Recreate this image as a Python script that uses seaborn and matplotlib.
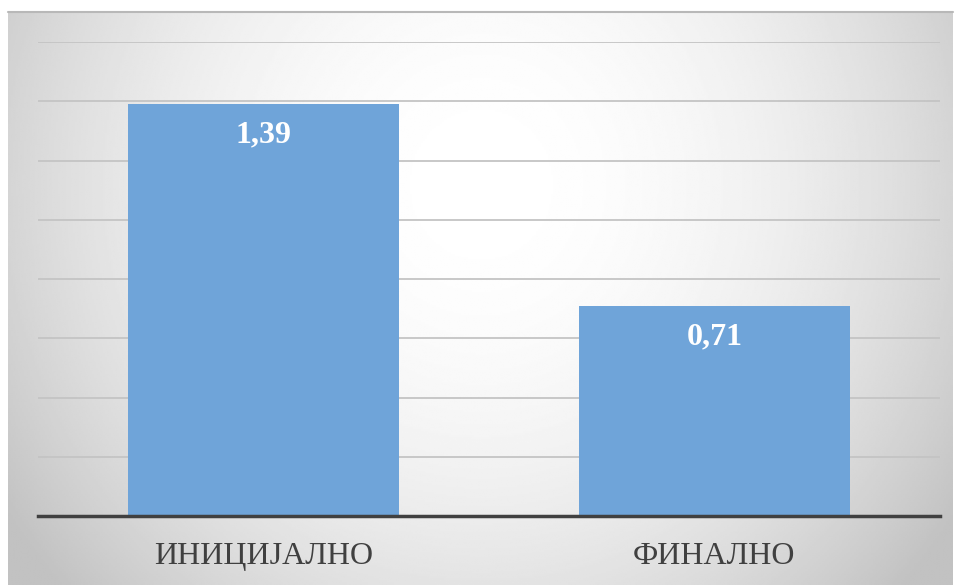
import numpy as np
import pandas as pd
import matplotlib
matplotlib.use("Agg")
import matplotlib.pyplot as plt
import seaborn as sns

categories = ["ИНИЦИЈАЛНО", "ФИНАЛНО"]
values = [1.39, 0.71]
value_labels = ["1,39", "0,71"]

sns.set_theme(style="white")
plt.rcParams['font.family'] = ['Liberation Serif', 'DejaVu Serif']

W, H = 960, 585
fig = plt.figure(figsize=(W / 100, H / 100), dpi=100)
fig.patch.set_facecolor("white")

# background gradient panel
bx0, by0, bx1, by1 = 8, 12, 953, 585
bg = fig.add_axes([bx0 / W, 1 - by1 / H, (bx1 - bx0) / W, (by1 - by0) / H])
ny, nx = 300, 500
yy, xx = np.mgrid[0:ny, 0:nx]
cx, cy = nx * 0.5, ny * 0.3
r2 = ((xx - cx) / (nx * 0.55)) ** 2 + ((yy - cy) / (ny * 0.95)) ** 2
val = np.clip(1.0 - 0.2 * r2, 0.76, 1.0)
bg.imshow(val, cmap="gray", vmin=0, vmax=1, aspect="auto", interpolation="bilinear")
bg.set_axis_off()
# top border line
fig.add_artist(plt.Line2D([bx0 / W, bx1 / W], [1 - by0 / H, 1 - by0 / H],
                          color="#b8b8b8", lw=1.5, transform=fig.transFigure))

# main plot
px0, px1, py_top, py_base = 38, 940, 42, 516
ax = fig.add_axes([px0 / W, 1 - py_base / H, (px1 - px0) / W, (py_base - py_top) / H])
ax.patch.set_alpha(0)
df = pd.DataFrame({"cat": categories, "val": values})
sns.barplot(data=df, x="cat", y="val", color="#6fa4d9", saturation=1, width=0.603,
            ax=ax, zorder=3, edgecolor="none")
ax.set_ylim(0, 1.6)
ax.set_xlim(-0.5, 1.5)
ax.set_yticks(np.arange(0.2, 1.61, 0.2))
ax.yaxis.grid(True, color="#c4c4c4", lw=1.3, zorder=0)
ax.set_axisbelow(True)
ax.tick_params(axis="y", left=False, labelleft=False)
ax.tick_params(axis="x", bottom=False, labelsize=23, labelcolor="#404040", pad=13)
for s in ["top", "right", "left"]:
    ax.spines[s].set_visible(False)
ax.spines["bottom"].set_color("#404040")
ax.spines["bottom"].set_linewidth(2.5)
ax.spines["bottom"].set_zorder(5)
ax.set_xlabel("")
ax.set_ylabel("")

for i, (v, lab) in enumerate(zip(values, value_labels)):
    ax.annotate(lab, (i, v), xytext=(0, -31), textcoords="offset pixels",
                ha="center", va="center", color="white", fontsize=23,
                fontweight="bold", zorder=6)

fig.savefig("out.png", dpi=100)
